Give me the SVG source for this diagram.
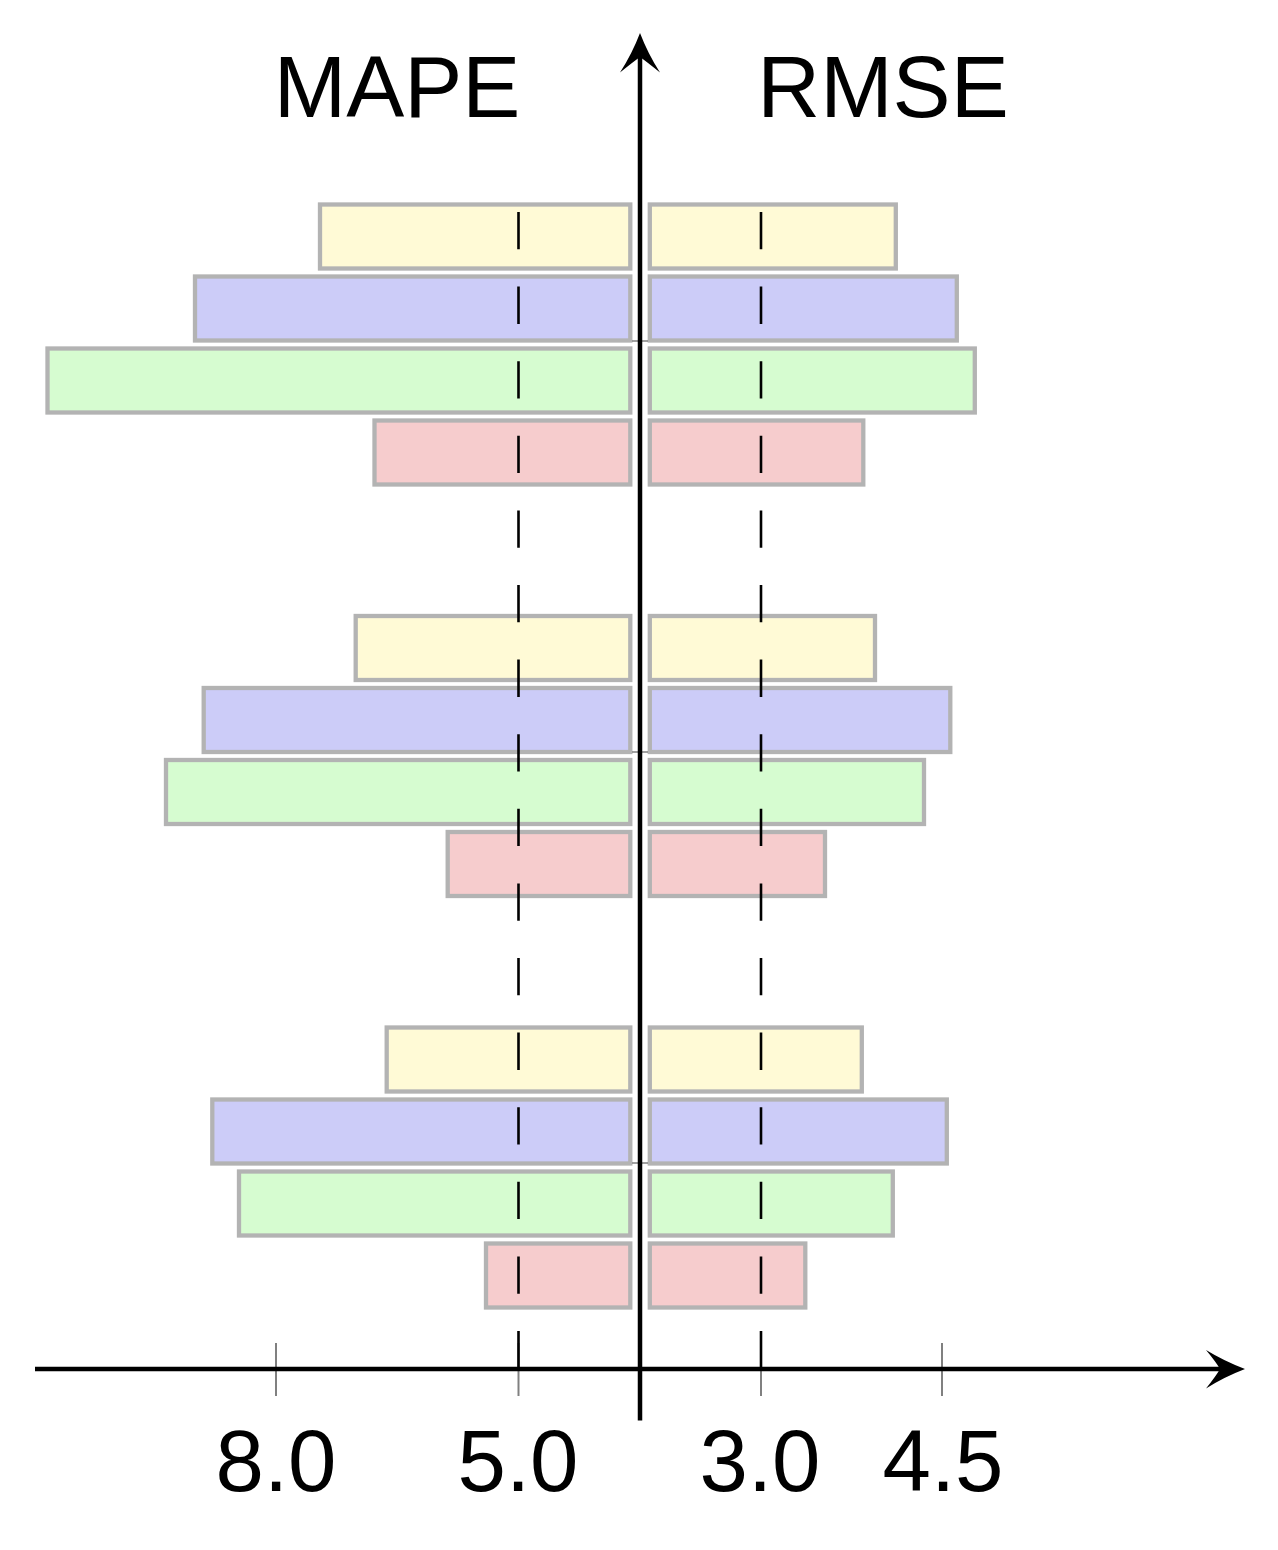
<svg xmlns="http://www.w3.org/2000/svg" width="1278" height="1550" viewBox="0 0 1278 1550">
<style>
.bar{stroke:#b3b3b3;stroke-width:4.3}
.y{fill:#fffad6}.b{fill:#ccccf8}.g{fill:#d6fcd0}.r{fill:#f6cccd}
.tick{stroke:#808080;stroke-width:2}
.mini{stroke:#808080;stroke-width:1.5}
.dash{stroke:#000;stroke-width:2.6;stroke-dasharray:37.3 37.3;fill:none}
.axis{stroke:#000;stroke-width:4.5;fill:none}
.head{fill:#000}
text{font-family:"Liberation Sans",Arial,sans-serif;font-size:87px;fill:#000;text-anchor:middle}
</style>
<rect width="1278" height="1550" fill="#fff"/>
<g id="group1">
<rect class="bar y" x="320" y="204.5" width="310.3" height="64"/>
<rect class="bar b" x="195" y="276.5" width="435.3" height="64"/>
<rect class="bar g" x="47.5" y="348.5" width="582.8" height="64"/>
<rect class="bar r" x="374.5" y="420.5" width="255.8" height="64"/>
<rect class="bar y" x="649.8" y="204.5" width="246" height="64"/>
<rect class="bar b" x="649.8" y="276.5" width="307" height="64"/>
<rect class="bar g" x="649.8" y="348.5" width="325" height="64"/>
<rect class="bar r" x="649.8" y="420.5" width="213.5" height="64"/>
</g>
<g id="group2">
<rect class="bar y" x="355.7" y="616" width="274.6" height="64"/>
<rect class="bar b" x="203.7" y="688" width="426.6" height="64"/>
<rect class="bar g" x="166" y="760" width="464.3" height="64"/>
<rect class="bar r" x="447.7" y="832" width="182.6" height="64"/>
<rect class="bar y" x="649.8" y="616" width="225.2" height="64"/>
<rect class="bar b" x="649.8" y="688" width="300.5" height="64"/>
<rect class="bar g" x="649.8" y="760" width="274.2" height="64"/>
<rect class="bar r" x="649.8" y="832" width="175.2" height="64"/>
</g>
<g id="group3">
<rect class="bar y" x="386.7" y="1027.5" width="243.6" height="64"/>
<rect class="bar b" x="212.3" y="1099.5" width="418" height="64"/>
<rect class="bar g" x="239" y="1171.5" width="391.3" height="64"/>
<rect class="bar r" x="486" y="1243.5" width="144.3" height="64"/>
<rect class="bar y" x="649.8" y="1027.5" width="212" height="64"/>
<rect class="bar b" x="649.8" y="1099.5" width="297" height="64"/>
<rect class="bar g" x="649.8" y="1171.5" width="243" height="64"/>
<rect class="bar r" x="649.8" y="1243.5" width="155.5" height="64"/>
</g>
<g id="ticks">
<line class="tick" x1="276" y1="1343" x2="276" y2="1396"/>
<line class="tick" x1="518.5" y1="1343" x2="518.5" y2="1396"/>
<line class="tick" x1="761" y1="1343" x2="761" y2="1396"/>
<line class="tick" x1="942" y1="1343" x2="942" y2="1396"/>
<line class="mini" x1="632" y1="341" x2="648" y2="341"/>
<line class="mini" x1="632" y1="752" x2="648" y2="752"/>
<line class="mini" x1="632" y1="1163" x2="648" y2="1163"/>
</g>
<g id="connectors">
<line class="dash" x1="518.5" y1="212" x2="518.5" y2="1369"/>
<line class="dash" x1="761" y1="212" x2="761" y2="1369"/>
<line class="axis" x1="35" y1="1369" x2="1222" y2="1369"/>
<path class="head" d="M1245,1369 Q1224,1361 1206,1350 Q1216,1362 1220,1369 Q1216,1376 1206,1388.5 Q1224,1377 1245,1369 Z"/>
<line class="axis" x1="640" y1="1420.5" x2="640" y2="57"/>
<path class="head" d="M640,33 Q632,54 620,72.5 Q633,62 640,57 Q647,62 660,72.5 Q648,54 640,33 Z"/>
</g>
<g id="labels">
<text x="397" y="117">MAPE</text>
<text x="883" y="117">RMSE</text>
<text x="276" y="1491">8.0</text>
<text x="518" y="1491">5.0</text>
<text x="760" y="1491">3.0</text>
<text x="943" y="1491">4.5</text>
</g>
</svg>
